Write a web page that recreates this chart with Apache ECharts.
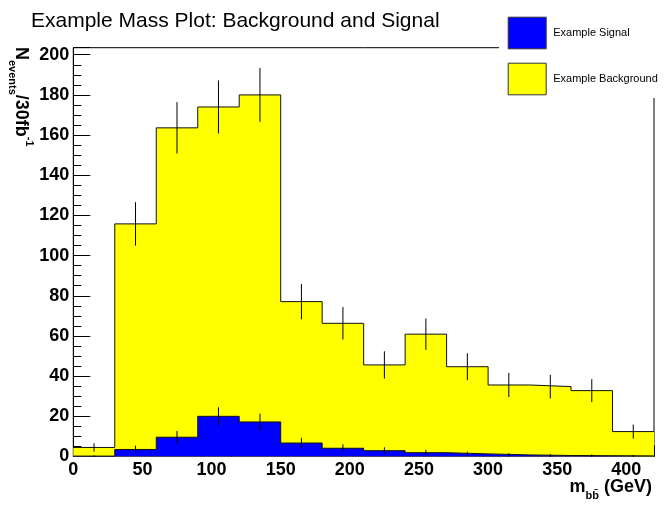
<!DOCTYPE html>
<html><head><meta charset="utf-8">
<script src="https://cdn.jsdelivr.net/npm/echarts@6/dist/echarts.min.js"></script>
<style>html,body{margin:0;padding:0;background:#fff}#c{width:664px;height:505px}</style>
</head><body><div id="c"></div>
<script>
// ---- data ----
const binLow = [0, 30, 60, 90, 120, 150, 180, 210, 240, 270, 300, 330, 360, 390];
const binWidth = 30;
const signal = [0.2, 3.5, 9.6, 20.0, 17.2, 6.7, 4.1, 2.9, 1.9, 1.3, 0.8, 0.5, 0.4, 0.3];
const background = [4.3, 112.3, 154.0, 154.0, 162.8, 70.4, 62.2, 42.7, 59.0, 43.4, 34.8, 34.3, 32.4, 12.1];
const signalErr = [0.4, 1.9, 3.1, 4.5, 4.1, 2.6, 2.0, 1.7, 1.4, 1.1, 0.9, 0.7, 0.6, 0.5];
const stackErr = [2.1, 10.8, 12.8, 13.2, 13.4, 8.8, 8.1, 6.8, 7.8, 6.7, 6.0, 5.9, 5.7, 3.5];
const xRange = [0, 420];
const yRange = [0, 203.5];
const xTickStep = 50;
const yTickStep = 20;

// ---- derived tables ----
const stackTop = background.map((b, i) => b + signal[i]);
function stepData(vals) {
  const d = binLow.map((x, i) => [x, vals[i]]);
  d.push([binLow[binLow.length - 1] + binWidth, vals[vals.length - 1]]);
  return d;
}
function errData(vals, errs) {
  return binLow.map((x, i) => [x + binWidth / 2, vals[i], errs[i]]);
}
function renderErr(params, api) {
  const x = api.value(0), v = api.value(1), e = api.value(2);
  const p1 = api.coord([x, v - e]);
  const p2 = api.coord([x, v + e]);
  return { type: 'line', shape: { x1: p1[0], y1: p1[1], x2: p2[0], y2: p2[1] },
           style: { stroke: '#000', lineWidth: 1 } };
}

const FONT = 'Liberation Sans, Arial, Helvetica, sans-serif';
const chart = echarts.init(document.getElementById('c'), null, { renderer: 'canvas' });
chart.setOption({
  animation: false,
  backgroundColor: '#fff',
  title: {
    text: 'Example Mass Plot: Background and Signal',
    left: 26, top: 6,
    textStyle: { fontFamily: FONT, fontSize: 21, fontWeight: 'normal', color: '#000' }
  },
  legend: {
    orient: 'vertical', left: 502.7, top: 11.7,
    itemWidth: 38, itemHeight: 31.6, itemGap: 13.4,
    textStyle: { fontFamily: FONT, fontSize: 11, color: '#000', padding: [0, 0, 0, 2] },
    data: [
      { name: 'Example Signal', icon: 'rect', itemStyle: { color: '#0000ff', borderColor: '#333', borderWidth: 1 } },
      { name: 'Example Background', icon: 'rect', itemStyle: { color: '#ffff00', borderColor: '#333', borderWidth: 1 } }
    ],
    z: 10
  },
  grid: { left: 73.3, right: 10, top: 47.7, bottom: 48.5, show: true, borderColor: '#000', borderWidth: 1, backgroundColor: 'transparent' },
  xAxis: {
    type: 'value', min: xRange[0], max: xRange[1], interval: xTickStep,
    axisLine: { show: true, onZero: false, lineStyle: { color: '#000', width: 1 } },
    axisTick: { show: true, inside: true, length: 11, lineStyle: { color: '#000' } },
    minorTick: { show: true, splitNumber: 5, length: 5.5, lineStyle: { color: '#000' } },
    splitLine: { show: false },
    axisLabel: { showMaxLabel: false, margin: 5, fontFamily: FONT, fontSize: 18, fontWeight: 'bold', color: '#000' }
  },
  yAxis: {
    type: 'value', min: yRange[0], max: yRange[1], interval: yTickStep,
    axisLine: { show: true, onZero: false, lineStyle: { color: '#000', width: 1 } },
    axisTick: { show: true, inside: true, length: 17, lineStyle: { color: '#000' } },
    minorTick: { show: true, splitNumber: 4, length: 8, lineStyle: { color: '#000' } },
    splitLine: { show: false },
    axisLabel: { showMaxLabel: false, margin: 4, fontFamily: FONT, fontSize: 18, fontWeight: 'bold', color: '#000' }
  },
  graphic: [
    { type: 'rect', z: 5, shape: { x: 499, y: 0, width: 165, height: 98 }, style: { fill: '#fff' } },
    { type: 'text', z: 6, x: 20.5, y: 47, rotation: -Math.PI / 2,
      style: { text: '{b|N}{s|events}{b|/30fb}{p|-1}', align: 'left', verticalAlign: 'middle',
        rich: {
          b: { fontFamily: FONT, fontSize: 18, fontWeight: 'bold', fill: '#000', lineHeight: 28, verticalAlign: 'middle' },
          s: { fontFamily: FONT, fontSize: 11, fontWeight: 'bold', fill: '#000', lineHeight: 11, verticalAlign: 'bottom' },
          p: { fontFamily: FONT, fontSize: 11, fontWeight: 'bold', fill: '#000', lineHeight: 11, verticalAlign: 'top' }
        } } },
    { type: 'text', z: 6, x: 652, y: 487,
      style: { text: '{b|m}{s|b\u0062\u0304}{b| (GeV)}', align: 'right', verticalAlign: 'middle',
        rich: {
          b: { fontFamily: FONT, fontSize: 18, fontWeight: 'bold', fill: '#000', lineHeight: 28, verticalAlign: 'middle' },
          s: { fontFamily: FONT, fontSize: 11, fontWeight: 'bold', fill: '#000', lineHeight: 11, verticalAlign: 'bottom' }
        } } }
  ],
  series: [
    { name: 'Example Background', type: 'line', step: 'end', data: stepData(stackTop),
      showSymbol: false, symbol: 'none', z: 2,
      itemStyle: { color: '#ffff00' },
      lineStyle: { color: '#111', width: 1 },
      areaStyle: { color: '#ffff00', opacity: 1, origin: 'start' } },
    { name: 'bkgErr', type: 'custom', renderItem: renderErr, data: errData(stackTop, stackErr), z: 3 },
    { name: 'Example Signal', type: 'line', step: 'end', data: stepData(signal),
      showSymbol: false, symbol: 'none', z: 4,
      itemStyle: { color: '#0000ff' },
      lineStyle: { color: '#111', width: 1 },
      areaStyle: { color: '#0000ff', opacity: 1, origin: 'start' } },
    { name: 'sigErr', type: 'custom', renderItem: renderErr, data: errData(signal, signalErr), z: 5 }
  ]
});
</script></body></html>
